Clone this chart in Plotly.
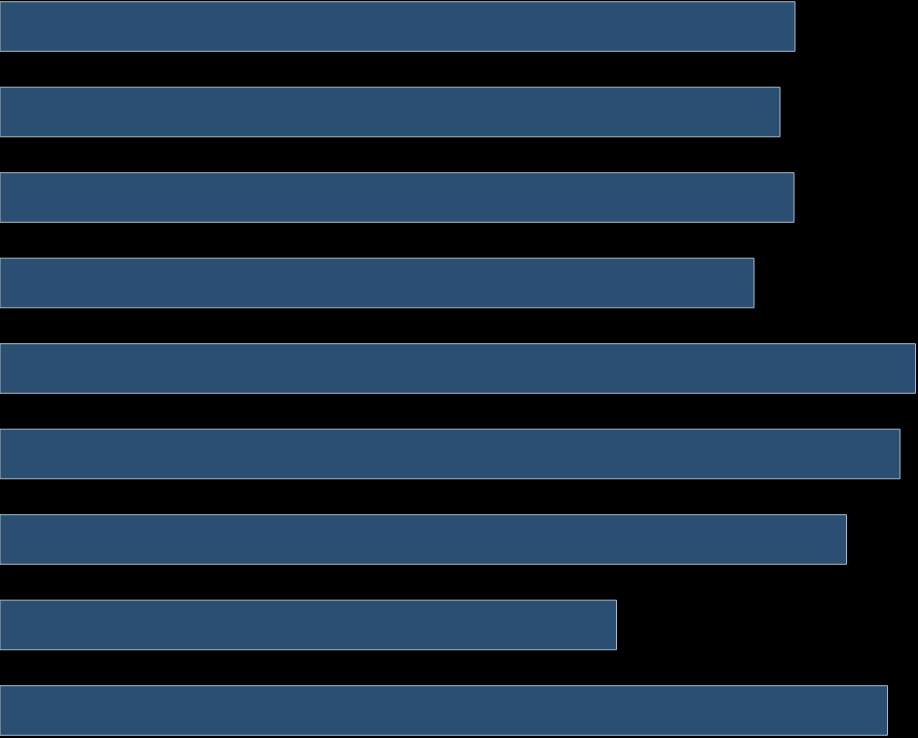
import plotly.graph_objects as go

# categorias de arriba hacia abajo (sin etiquetas visibles en la imagen)
categorias = ["A", "B", "C", "D", "E", "F", "G", "H", "I"]
valores = [795, 780, 794, 754, 915.5, 900, 846.5, 616.5, 887.5]

fig = go.Figure(go.Bar(
    x=valores,
    y=categorias,
    orientation="h",
    width=0.58,
    marker=dict(color="#2b4f72", line=dict(color="#aab8c6", width=1)),
    showlegend=False
))

fig.update_layout(
    width=918,
    height=738,
    margin=dict(l=0, r=0, t=0, b=0),
    paper_bgcolor="#000000",
    plot_bgcolor="#000000"
)
fig.update_xaxes(range=[0, 918], visible=False, showgrid=False, zeroline=False)
fig.update_yaxes(range=[8.322, -0.31], visible=False, showgrid=False, zeroline=False)

# quitar el margen del body para que el grafico ocupe toda la ventana
fig.write_html(
    "out.html",
    config={"displayModeBar": False},
    post_script="document.body.style.margin='0';document.body.style.overflow='hidden';document.body.style.background='#000';"
)
